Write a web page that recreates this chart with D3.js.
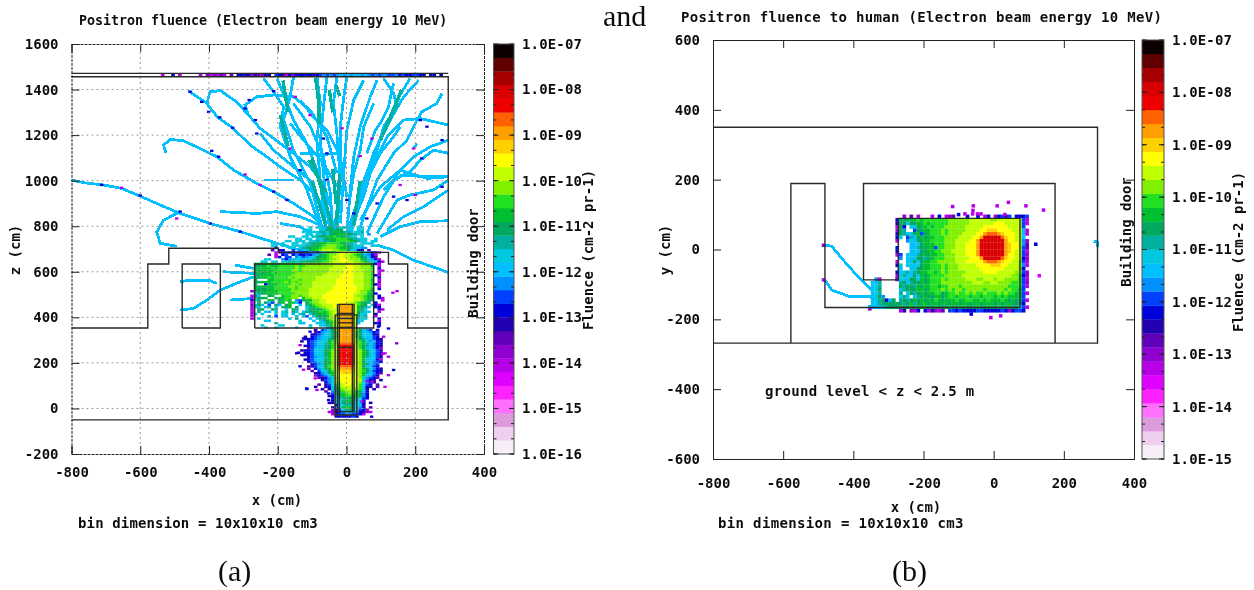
<!DOCTYPE html>
<html>
<head>
<meta charset="utf-8">
<script src="https://cdn.jsdelivr.net/npm/d3@7"></script>
<style>
  html, body { margin: 0; background: #fff; }
  svg { display: block; }
  text { font-family: "DejaVu Sans Mono", monospace; font-weight: bold; font-size: 14px; fill: #111; }
  .serif { font-family: "Liberation Serif", serif; font-weight: normal; }
</style>
</head>
<body>
<div id="chart"></div>
<script>
/* CONSTANTS AND GLOBALS */
const width = 1254, height = 590, binSize = 10;

// colour steps of the bar, pale end first. One letter per step in the cell strings below
const levelKeys = "abcdefghijklmnopqrstuvwxyzABCD";
const palette = ["#f8eef8", "#eed0ee", "#dc9cdc", "#ff70ff", "#ff20ff", "#e000ff", "#b800e8", "#9000d0", "#6000b8", "#2000b0",
  "#0000d8", "#0040ff", "#0090ff", "#00c0ff", "#00c8e0", "#00b0a0", "#00a860", "#00c030", "#20e020", "#80f000",
  "#c0ff00", "#ffff00", "#ffd000", "#ffa000", "#ff6000", "#ee0000", "#d80000", "#a80000", "#600000", "#100000"];

const xTicks = [-800, -600, -400, -200, 0, 200, 400];
const zTicks = [-200, 0, 200, 400, 600, 800, 1000, 1200, 1400, 1600];
const yTicks = [-600, -400, -200, 0, 200, 400, 600];
const decadesA = [-16, -15, -14, -13, -12, -11, -10, -9, -8, -7];
const decadesB = [-15, -14, -13, -12, -11, -10, -9, -8, -7];

/* PANEL (a) DATA: x, z in cm */
// top strip under the roof
const aRoofRow = [[1460, -540, "g..k. g.... .g.hg hgig. i.kkj khjih kj.lk jgkhk kkkkj klmlm lmnmn monmn mlmlm mllmk lkkll kk.kk .k"]];
// trunk above the upper block, starts at x = -300
const aTrunkRows = [
  [790, -300, "..... ..... ..... ....o .oo.p q.pop .o.oo ...."],
  [780, -300, "..... ..... ..... ...oo ..ooq qpqq. oo.oo ...."],
  [770, -300, "..... ..... ..... ..o.o oopp. qrrqp p.oop ...."],
  [760, -300, "..... ..... ..... ...oo .oopo qqrrr qqpoo .m.."],
  [750, -300, "..... ..... ...oo ..oo. opqqr rsrqq poo.o ...."],
  [740, -300, "..... ..... ..... oo.oo .oopq rrsss rqpoo o..o"],
  [730, -300, "..... ..... ..oo. ooo.o opopp qrsss srqpo o.oo"],
  [720, -300, "..... ...oo .o..o o.oop qqrrs sssrq ppo.o ooo."],
  [710, -300, "..... ...oo .oo.o ooopp qqrst ttssr qpooo ..oo"],
  [700, -300, "..... ....k ...oo .opqq rrstt ttsrr qpoom m..."],
  [690, -300, "..... ...i. kk..l .mnoq rstuu uttss qonkj .i.."],
  [680, -300, "..... ....g gklkk kkjj. lkmoq rstuv uutsq omkk g."],
  [670, -300, "..... ..i.g .kl.k mkklk moqrs ttuvu utsrq nmkg."],
  [660, -300, "..... ....g k.ll. mnlmn oqqrs tuuvu uttsq pnki."],
  [650, -300, "..... .oo.. .mkmn oonoo pqrrs ttuvv utttr qomkg"],
  [640, -300, "..... oo.oo .nopp oppqq qrrss tuuvv uutts rponk g"]
];
// the upper block, starts at x = -280
const aBlockRows = [
  [630, -280, ". qrrrs rrsss sssst ttttt tuuuu uuvvu uuttr kg."],
  [620, -280, ". qqrrs rrsss sstss ttttt tttuu uuvvu utttr .g."],
  [610, -280, ". qrrrr srsss sstst ttttt ttuuu uuvvu uttts .k."],
  [600, -280, ". rqrrr rssss sttst ttttt ttuuu uvvvu uutts .gg"],
  [590, -280, ". qrqrr srsss ssttt ttttt tuuuu uvvvu uutts .g."],
  [580, -280, ". qqrrr rssss stttt ttttt uuuuu vvvvu uutts kg."],
  [570, -280, ". rqrrs rssss tsttt tttuu uuuuu vvvvu uutts .k."],
  [560, -280, ". q...r rssss sttst tttuu uuuuv vvvvu uuttr .g."],
  [550, -280, ". qqrrr sssst ststt ttuuu uuuuv vvvvu uutts .h."],
  [540, -280, ". r..kq rrsss sttst ttuuu uuuuv vvvvu uuttr kg."],
  [530, -280, ". qqrrr rssss ttstt ttuuu uuuvv vvvvv uutts .g."],
  [520, -280, ". rqqqr rssss ststt tuuuu uuuvv vvvvv uuttr .k."],
  [510, -280, "h qqrqr rrsss stttt tuuuu uuvvv vvvvv uttsr ..."],
  [500, -280, ". nqqrr rrsss ssttt tuuuu uvvvv vvvvu uttrq k.."],
  [490, -280, "g qo..q r..rs sttst tuuuu vvvvv vvvvu ttsrq .k."],
  [480, -280, "g oqqr. .qrrs stt.r ttuuu vvvvv vvvvu utsrr .kg"],
  [470, -280, "j oq..r r.qrs r.mlr rrttu uvvvv vvvvu utsqq ..g"],
  [460, -280, "g .q.qn l.qr. rrnk. qsttu uvvvv vvuut srqp. k.."],
  [450, -280, "h oqo.l .qn.q r..n. prstt uuuvv uuutt srq.o kg."],
  [440, -280, "g oo.np .o.pq r.q.. oprst tuuvv uutts rqpo. kk."],
  [430, -280, "h .qq.. qp..o .qp.. oqqqq stuuv vuuts rqo.. .kg"],
  [420, -280, "g .p.on .o.op .qo.o pqqrs rstuv uutsr qpoo. .g."],
  [410, -280, "g n.o.. .n.oo .n.op .oqqr rstuu utsrq qoo.. k.."],
  [400, -280, "g ....p .l.on ..o.o l.oqq qrtuu utsrq qop.. g.."],
  [390, -280, "h .o... ..... o.p.. .n.oq qstuu tsrqp poo.. .k."],
  [380, -280, ". ...on ..... ...o. ..n.o pqstu usrqp oo... .g."],
  [370, -280, ". ..... .p... ...on ...oo oqrtu utrqo n.... kk."],
  [360, -280, ". ..o.. ..oo. ..... .o..o nprtu utrpm ..... .j."],
  [350, -280, ". ...o. .o... ..o.. .o... .oqst tsqo. ..... ..."]
];
// the two lobes round the target, starts at x = -155
const aLobeRows = [
  [340, -155, "..... .j.lm oqtxx xxxtq oml.j ."],
  [330, -155, "..... .ikmn oqsxx xxxsq nnmkl ."],
  [320, -155, "..... jklmo oqsxx xxxsq onnkj ."],
  [310, -155, "...j. klmno oqsxx xxxsq onnlk ."],
  [300, -155, "...jk klmno pqtxx xxxtq ponlk j"],
  [290, -155, "..j.k lmnoo qstxx xxxts qomnk j"],
  [280, -155, "....k lmnop rstyy yyyts rpnmk k"],
  [270, -155, "...jk lmnop qsuzz zzzus qpnmk j"],
  [260, -155, "....i lnoop qsuzz zzzus qonmk h"],
  [250, -155, "..jkk lnooq rtuzz zzzut rqonl j"],
  [240, -155, ".j.kk lnooq rtuzz zzzut rqonl k"],
  [230, -155, "..ijk lnooq rtuzz zzzut rqonl j"],
  [220, -155, "....k lmnop rtuzz zzzut rponl j"],
  [210, -155, "...jk lnnoq rtuzz zzzut ronnk g"],
  [200, -155, "....k lmnoq rtuzz zzzut qonml k"],
  [190, -155, "..... klmoq rtuzz zzzut rqnml ."],
  [180, -155, "....i jlnoq stuyy yyyut qnnlk ."],
  [170, -155, "....i .kmoq rtuxx xxxut rqomk j"],
  [160, -155, "..... i.lno qsuww wwwut sqnlk k"],
  [150, -155, "..... .jkmo qruvw wwvut rpnmk i"],
  [140, -155, "..... .hklm oruvv vvvut ronlj ."],
  [130, -155, "..... ..ijk motvv vvvvt omlki ."],
  [120, -155, "..... ...jl mouvv vvvuu omkj. j"],
  [110, -155, "..... ....k motuv vvvut omkj. ."],
  [100, -155, "..... ..i.j lostu vvuus olk.i ."],
  [90, -155, "..... .j..j kortu uuuus okj.i ."],
  [80, -155, "..... ...j. jnrst uutts oj.j. ."],
  [70, -155, "..... ....i .mqrs tttrq nk... ."],
  [60, -155, "..... ..... .lpqr stsrq mk... ."],
  [50, -155, "..... ..... jkoqr ssrrq mk... ."],
  [40, -155, "..... ..... .kopp qqqpo lk... ."],
  [30, -155, "..... ..... .knop rrqpn k.... ."],
  [20, -155, "..... ..... jjnoq qqqon k.j.. ."],
  [10, -155, "..... ..... ..jno ppoon j.... ."],
  [0, -155, "..... ..... .jmnr rrrnm j.i.. ."],
  [-10, -155, "..... ..... .hklo qqqol kh... ."],
  [-20, -155, "..... ..... ghjkm mmmmk jhg.. ."],
  [-30, -155, "..... ..... .gkll mmllk g.... ."],
  [-40, -155, "..... ..... ..kkk kklk. ..... ."]
];
// inside of the target tube above the block floor
const aTubeRows = [
  [450, -30, "uxxxxu"], [440, -30, "uxxxxu"], [430, -30, "uxxxxu"], [420, -30, "uxxxxu"], [410, -30, "uxxxxu"],
  [400, -30, "uxxxxu"], [390, -30, "uxxxxu"], [380, -30, "uxxxxu"], [370, -30, "uxxxxu"], [360, -30, "uxxxxu"], [350, -30, "uxxxxu"]
];
const aTracks = [
  [[-800, 1003], [-765, 991], [-707, 981], [-654, 966], [-600, 932], [-542, 893], [-484, 856], [-397, 812], [-309, 776], [-232, 739], [-154, 703], [-96, 681]],
  [[-525, 1120], [-532, 1156], [-513, 1181], [-474, 1175], [-416, 1134], [-377, 1105], [-329, 1047], [-261, 988], [-203, 944], [-154, 900], [-96, 842], [-57, 783]],
  [[-460, 1395], [-406, 1339], [-377, 1281], [-329, 1229], [-280, 1156], [-232, 1105], [-193, 1061], [-135, 1003], [-86, 930], [-47, 827]],
  [[-406, 1339], [-397, 1390], [-367, 1395], [-319, 1346], [-285, 1288], [-251, 1229], [-212, 1185], [-154, 1120], [-106, 1061], [-67, 988], [-47, 886]],
  [[-285, 1288], [-295, 1332], [-261, 1368], [-212, 1376], [-154, 1368], [-106, 1310], [-57, 1193], [-28, 1032]],
  [[-484, 864], [-532, 827], [-552, 775], [-542, 725], [-494, 712]],
  [[-484, 556], [-460, 563], [-401, 563], [-377, 549]],
  [[-484, 432], [-445, 439], [-406, 476], [-367, 520], [-309, 556], [-270, 578]],
  [[-338, 476], [-270, 483]],
  [[-324, 629], [-270, 615]],
  [[-358, 600], [-270, 593]],
  [[88, 717], [137, 695], [195, 651], [297, 597]],
  [[-367, 864], [-261, 856], [-203, 864], [-135, 842], [-76, 805]],
  [[297, 1244], [215, 1273], [166, 1266], [118, 1193], [79, 1076], [40, 929], [11, 754]],
  [[278, 1383], [263, 1339], [219, 1302], [195, 1237], [176, 1178], [137, 1120], [89, 1003], [40, 798]],
  [[297, 1178], [244, 1149], [195, 1105], [156, 1046], [108, 929], [59, 768]],
  [[297, 1003], [253, 959], [185, 937], [147, 915], [118, 842], [89, 768]],
  [[297, 959], [224, 885], [166, 842], [118, 783]],
  [[297, 824], [215, 820], [156, 798], [98, 754]],
  [[297, 1017], [234, 1010], [156, 1046], [98, 973], [40, 827]],
  [[210, 1441], [166, 1368], [127, 1266], [98, 1178], [69, 1076], [40, 959], [11, 798]],
  [[185, 1449], [147, 1354], [118, 1251], [79, 1120], [40, 944], [1, 768]],
  [[108, 1449], [137, 1383], [147, 1324], [108, 1237], [89, 1134], [50, 973], [21, 798]],
  [[89, 1441], [69, 1368], [40, 1237], [21, 1105], [11, 959], [1, 768]],
  [[50, 1441], [21, 1354], [1, 1222], [-8, 1032], [-18, 812]],
  [[1, 1456], [-8, 1368], [-18, 1237], [-18, 1032], [-28, 754]],
  [[-28, 1456], [-38, 1339], [-28, 1207], [-18, 1003], [-38, 739]],
  [[-57, 1456], [-67, 1324], [-76, 1178], [-67, 1032], [-47, 754]],
  [[-86, 1456], [-76, 1339], [-86, 1178], [-76, 988], [-57, 768]],
  [[-154, 1456], [-164, 1368], [-183, 1266], [-154, 1134], [-105, 988], [-67, 768]],
  [[-202, 1449], [-173, 1339], [-154, 1266], [-115, 1163], [-76, 1003], [-47, 783]],
  [[-241, 1449], [-212, 1390], [-183, 1324], [-193, 1237], [-164, 1105], [-115, 959], [-67, 754]],
  [[-154, 1339], [-105, 1237], [-67, 1105], [-47, 944], [-38, 739]],
  [[-241, 1003], [-154, 1003]],
  [[-193, 812], [-135, 798], [-96, 754]],
  [[-251, 1207], [-212, 1134], [-154, 1061], [-95, 988]],
  [[-164, 1251], [-125, 1178], [-67, 1076], [-28, 973]],
  [[-135, 1354], [-96, 1280], [-57, 1222], [-18, 1105], [1, 929]],
  [[79, 1339], [50, 1237], [40, 1134], [21, 1032], [11, 929]],
  [[137, 1427], [122, 1324], [98, 1251], [84, 1222], [59, 1120]],
  [[156, 1237], [137, 1193], [98, 1120], [69, 1032], [50, 929], [21, 827]],
  [[297, 1120], [253, 1134], [215, 1090], [185, 1039], [137, 1003], [108, 959]],
  [[297, 1020], [234, 1017], [156, 1025]],
  [[205, 1163], [195, 1141]],
  [[-135, 1120], [-67, 1115], [-28, 1120]]
];
// where tracks pile up and the colour goes teal
const aDenseTracks = [
  [[-193, 1290], [-183, 1230], [-170, 1150]],
  [[-86, 1420], [-80, 1320], [-80, 1250]],
  [[-20, 1030], [-25, 900], [-30, 800]],
  [[-100, 1100], [-70, 950], [-40, 790]],
  [[150, 1340], [120, 1260], [100, 1180]],
  [[-50, 1400], [-40, 1300]],
  [[-90, 1450], [-80, 1340]],
  [[-30, 1420], [-20, 1370]],
  [[-185, 1440], [-170, 1300]],
  [[160, 1400], [140, 1320], [120, 1250]],
  [[-110, 1090], [-60, 950]],
  [[-40, 1050], [-30, 900]],
  [[40, 1000], [20, 800]],
  [[-100, 1000], [-60, 800]]
];
const aSpecks = [
  [-455, 1390, "k"], [-421, 1346, "k"], [-401, 1302, "k"], [-369, 1278, "k"], [-331, 1232, "k"], [-295, 1317, "k"],
  [-283, 1354, "k"], [-265, 1266, "k"], [-261, 1207, "k"], [-212, 1393, "k"], [-149, 1368, "g"], [-106, 1288, "g"],
  [-164, 1141, "g"], [-135, 1046, "k"], [-212, 952, "k"], [-173, 915, "k"], [-295, 1027, "g"], [-251, 981, "g"],
  [-372, 1105, "k"], [-392, 1131, "k"], [-712, 981, "k"], [-654, 969, "g"], [-600, 935, "k"], [-484, 864, "k"],
  [-494, 834, "g"], [-397, 812, "k"], [-309, 776, "k"], [278, 1178, "k"], [234, 1237, "k"], [215, 1266, "k"],
  [195, 1141, "g"], [219, 1098, "k"], [278, 973, "k"], [200, 937, "g"], [156, 981, "g"], [137, 930, "k"],
  [176, 915, "k"], [89, 900, "k"], [59, 834, "k"], [40, 1108, "g"], [74, 1185, "g"], [-13, 1230, "g"],
  [-57, 1120, "k"], [-67, 1185, "k"], [-57, 1003, "k"], [1, 915, "k"], [21, 856, "k"],
  [146, 286, "h"], [112, 95, "g"], [73, -36, "k"], [-116, 88, "k"], [-145, 242, "k"], [-125, 170, "g"],
  [-135, 185, "k"], [135, 508, "g"], [147, 515, "g"], [122, 351, "k"], [105, 240, "g"], [60, 120, "g"],
  [-106, 337, "k"], [-125, 307, "k"], [-135, 278, "g"], [-125, 234, "k"], [-91, 132, "g"], [-86, 81, "g"],
  [-115, 85, "k"], [-52, 66, "k"], [-52, 37, "k"], [93, 359, "k"], [108, 315, "g"], [112, 242, "g"],
  [122, 227, "g"], [137, 169, "k"], [122, 146, "g"], [74, 117, "g"], [45, 30, "g"]
];
// building walls and target outlines
const aWalls = [
  [[-800, 1471], [296, 1471]],
  [[-800, 1456], [296, 1456], [296, -50], [-800, -50]],
  [[-800, 353], [-578, 353], [-578, 634], [-517, 634], [-517, 703], [-198, 703], [-198, 685], [122, 685], [122, 634], [178, 634], [178, 353], [296, 353]],
  [[-478, 353], [-478, 634], [-367, 634], [-367, 353], [-478, 353]],
  [[-267, 353], [-267, 634], [79, 634], [79, 353], [-267, 353]],
  [[-33, 411], [30, 411], [30, -29], [-33, -29], [-33, 411]],
  [[-26, 457], [22, 457], [22, -14], [-26, -14], [-26, 457]],
  [[-26, 417], [22, 417]], [[-26, 395], [22, 395]], [[-26, 376], [22, 376]], [[-26, 356], [22, 356]], [[-26, 268], [22, 268]],
  [[-21, 457], [-21, -14]], [[17, 457], [17, -14]]
];

/* PANEL (b) DATA: x, y in cm, starts at x = -280 */
const bRows = [
  [90, -280, ". .h.i. g...g .k.gh i...k ..k.g k.hkl jl.kk kl"],
  [80, -280, "k qqqrr srsss sssst ttttt uuuuu uttuu uuuuu lg"],
  [70, -280, "j qqoqq rrsrs sssst ttttt uuuuu uuvvv uuuuu lg"],
  [60, -280, "g qk.oo qrrsr ssstt ttttu uuuuv vvvvv vuuuu l."],
  [50, -280, "g qp..l qqrrs sstst ttttu uuuvv wwwvv vvuuu og"],
  [40, -280, "j qpnoq rlqrs sstst tttuu uuvvx yyyxw vvvuu ng"],
  [30, -280, "k o.lpn qrqrr ssstt ttuuu uvvxA AAAAy wvvuu n."],
  [20, -280, "g ..mon qqrrs ssstt tuuuu vvxAA AAAAA xvvuu mh"],
  [10, -280, ". ...nn oqrrr ssstt tuuuv vvxAA AAAAA xwvvu mi"],
  [0, -280, "k ...nn pqqrr lsstt tuuuv vvxAA AAAAA xwvvu li"],
  [-10, -280, "k ...no nqqrr ssttt uuuuv vvxAA AAAAA xwvuu lg"],
  [-20, -280, "g l.onn pqrqr rsstt tuuuv vvxAA AAAAA xvvuu lh"],
  [-30, -280, ". m.non qqpqr ssstt tuuuu vvvxA AAAAy wvvuu kh"],
  [-40, -280, "g ..onq nqrrs stttt tuuuv vvvvx yyyxw vvuut lg"],
  [-50, -280, "j o.non oqrrs sstst ttuuu uuvvv vwwwv vuuut mg"],
  [-60, -280, ". n..on qqrrs sstst ttuuu uuuvv vvvvv uuuut k."],
  [-70, -280, "k nopnp qrrss rstst ttttu uuuuv vvvuu uuutt lh"],
  [-80, -280, "g oponq nrqrs ssstt tttuu uuuuu uuuuu uutts kh"],
  [-90, -280, "h oonqq orqrs sstst ttttu uuttu uutuu tttts lg"],
  [-100, -280, ". pqnpq qrqrs ssttt ttttt tuuut tuutt ttsss lh"],
  [-110, -280, ". qpqqp rqrrs srsst ttstt ttttt ttttt tssss lg"],
  [-120, -280, ". opqqq rrqrs sstst sttst tttts ttttt stssr l."],
  [-130, -280, ". p.oqp qrqrr ssqrs stsst stsst sssts tssrr lg"],
  [-140, -280, ". opo.o pqrqq rrqrs srsss rssrs ssrsr srrrr l."],
  [-150, -280, ". pqpqr qrqrq srqrr rsrrs srrsr srrrs rqrqq lg"],
  [-160, -280, ". qpqrp qrrqr rqrrq rrqrr qrrqr rrqrq rrqqq k."],
  [-170, -280, ". qqqrq rqrqq rqqqr qqrrq qqrqq rqqrq qrqqo lg"],
  [-180, -280, ". gj.hg k.kgj hgi.l lklkk kkllk kkkkl khkll k."]
];
// corridor cells left of the block, starts at x = -350
const bCorridorRows = [
  [-90, -350, ".mg.. ..g"],
  [-100, -350, "nnp.. ...o"],
  [-110, -350, "nop.. ...o"],
  [-120, -350, "onq.. ...n"],
  [-130, -350, "nop.. ...o"],
  [-140, -350, "noqm. ...o"],
  [-150, -350, "nopqk nq.."],
  [-160, -350, "onpqq qqq"],
  [-170, -350, "nnnop qqq"]
];
const bTracks = [
  [[-485, 12], [-462, 10], [-429, -30], [-391, -73], [-362, -101], [-343, -120]],
  [[-481, -87], [-462, -116], [-410, -135], [-353, -135], [-324, -149]],
  [[-357, -162], [-276, -159]],
  [[285, 24], [296, 22], [296, 8]]
];
const bSpecks = [
  [-117, 123, "g"], [-58, 125, "g"], [-59, 112, "g"], [10, 125, "g"], [42, 135, "g"], [92, 125, "g"], [142, 113, "g"],
  [-82, 102, "g"], [-60, 102, "g"], [-46, 102, "g"], [-36, 102, "g"], [32, 100, "g"], [-100, 100, "k"], [120, 15, "k"],
  [130, -75, "f"], [-8, -195, "g"], [20, -190, "g"], [-64, -185, "k"], [-353, -170, "h"], [-485, 12, "h"], [-485, -87, "g"]
];
const bWalls = [
  [[-800, 350], [296, 350], [296, -268], [-800, -268]],
  [[-578, -268], [-578, 189], [-481, 189], [-481, -166], [75, -166], [75, 89], [-272, 89], [-272, -87], [-371, -87], [-371, 189], [175, 189], [175, -268]]
];

/* DRAW HELPERS */
const svg = d3.select("#chart").append("svg").attr("width", width).attr("height", height);
svg.append("defs").append("filter").attr("id", "soft")
  .append("feGaussianBlur").attr("stdDeviation", 0.4);
const root = svg.append("g").attr("filter", "url(#soft)");

function toCells(rows) {
  return rows.flatMap(([v, x0, s]) => Array.from(s.replace(/ /g, "")).flatMap((c, i) =>
    c === "." ? [] : [{ x: x0 + i * binSize, v, level: levelKeys.indexOf(c) }]));
}

function spacedText(g, l) {
  return g.append("text").attr("x", l.x).attr("y", l.y).attr("dy", "0.35em")
    .attr("text-anchor", l.anchor || "start")
    .style("font-size", (l.size || 14) + "px")
    .style("letter-spacing", (l.spacing || 0) + "px").text(l.text);
}

function drawPanel(p) {
  const g = root.append("g");
  const x = d3.scaleLinear().domain([-800, 400]).range(p.xRange);
  const y = d3.scaleLinear().domain(p.yDomain).range(p.yRange);
  const line = d3.line().x(d => x(d[0])).y(d => y(d[1]));
  const colour = d3.scaleQuantize().domain(d3.extent(p.decades)).range(palette);
  const [lo, hi] = d3.extent(p.decades);
  const fluence = level => lo + (level + 0.5) / palette.length * (hi - lo);

  // tracks go under the binned cells
  g.append("g").selectAll("path").data(p.tracks).join("path")
    .attr("d", line).attr("fill", "none")
    .attr("stroke", colour(fluence(13))).attr("stroke-width", 2.8)
    .attr("shape-rendering", "crispEdges");
  g.append("g").selectAll("path").data(p.denseTracks).join("path")
    .attr("d", line).attr("fill", "none")
    .attr("stroke", colour(fluence(15))).attr("stroke-width", 3.4)
    .attr("shape-rendering", "crispEdges");

  // binned fluence
  const w = x(binSize) - x(0), h = y(0) - y(binSize);
  g.append("g").selectAll("rect").data(p.cells).join("rect")
    .attr("x", d => x(d.x)).attr("y", d => y(d.v + binSize))
    .attr("width", w + 0.2).attr("height", h + 0.2)
    .attr("fill", d => colour(fluence(d.level)));
  g.append("g").selectAll("rect").data(p.specks).join("rect")
    .attr("x", d => x(d[0]) - w / 2).attr("y", d => y(d[1]) - h / 2)
    .attr("width", w).attr("height", h)
    .attr("fill", d => colour(fluence(levelKeys.indexOf(d[2]))));

  // grid, only on the left panel
  if (p.grid) {
    const grid = g.append("g").attr("fill", "none").attr("stroke", "#999").attr("stroke-dasharray", "2,3");
    grid.selectAll("line.v").data(xTicks.slice(1, -1)).join("line").attr("class", "v")
      .attr("x1", d => x(d)).attr("x2", d => x(d)).attr("y1", p.yRange[0]).attr("y2", p.yRange[1]);
    grid.selectAll("line.h").data(p.yTicks.slice(1, -1)).join("line").attr("class", "h")
      .attr("x1", p.xRange[0]).attr("x2", p.xRange[1]).attr("y1", d => y(d)).attr("y2", d => y(d));
  }

  // walls
  g.append("g").selectAll("path").data(p.walls).join("path")
    .attr("d", line).attr("fill", "none").attr("stroke", "#2a2a2a").attr("stroke-width", 1.4);

  // axes with ticks pointing in
  const plain = d => String(d);
  const bottom = g.append("g").attr("transform", `translate(0,${p.yRange[0]})`)
    .call(d3.axisBottom(x).tickValues(xTicks).tickSize(-8).tickPadding(p.xPad).tickFormat(plain));
  const left = g.append("g").attr("transform", `translate(${p.xRange[0]},0)`)
    .call(d3.axisLeft(y).tickValues(p.yTicks).tickSize(-8).tickPadding(13).tickFormat(plain));
  const top = g.append("g").attr("transform", `translate(0,${p.yRange[1]})`)
    .call(d3.axisTop(x).tickValues(xTicks).tickSize(-8).tickFormat(""));
  const right = g.append("g").attr("transform", `translate(${p.xRange[1]},0)`)
    .call(d3.axisRight(y).tickValues(p.yTicks).tickSize(-8).tickFormat(""));
  [bottom, left, top, right].forEach(a => {
    a.selectAll(".domain").attr("stroke", "#222").attr("stroke-dasharray", p.grid ? "3,1" : null);
    a.selectAll(".tick line").attr("stroke", "#222");
    a.selectAll("text").style("font-size", "14px");
  });

  // colour bar
  const [barL, barR] = p.barX;
  const bar = d3.scaleLinear().domain([lo, hi]).range(p.yRange);
  const barStep = d3.range(palette.length);
  g.append("g").selectAll("rect").data(barStep).join("rect")
    .attr("x", barL).attr("width", barR - barL)
    .attr("y", i => bar(lo + (i + 1) / palette.length * (hi - lo)))
    .attr("height", (p.yRange[0] - p.yRange[1]) / palette.length + 0.3)
    .attr("fill", i => palette[i]);
  g.append("rect").attr("x", barL).attr("y", p.yRange[1]).attr("width", barR - barL)
    .attr("height", p.yRange[0] - p.yRange[1]).attr("fill", "none").attr("stroke", "#555");
  const minor = d3.range(lo, hi, 1 / 3);
  g.append("g").attr("stroke", "#222").selectAll("path").data(minor).join("path")
    .attr("d", d => `M${barL},${bar(d)}h3M${barR},${bar(d)}h-3`);
  g.append("g").attr("stroke", "#222").selectAll("path").data(p.decades).join("path")
    .attr("d", d => `M${barL},${bar(d)}h5M${barR},${bar(d)}h-5`);
  g.append("g").selectAll("text").data(p.decades).join("text")
    .attr("x", barR + 8).attr("y", d => bar(d)).attr("dy", "0.35em")
    .style("letter-spacing", "0.15px")
    .text(d => "1.0E" + (d < 0 ? "-" : "+") + String(Math.abs(d)).padStart(2, "0"));

  // labels
  p.labels.forEach(l => {
    const t = spacedText(g, l);
    if (l.rotate) t.attr("transform", `rotate(-90,${l.x},${l.y})`);
  });
}

/* DRAW */
drawPanel({
  xRange: [71.5, 484], yDomain: [-200, 1600], yRange: [454, 44], yTicks: zTicks, decades: decadesA,
  barX: [493.5, 514], grid: true, xPad: 13,
  cells: toCells([...aRoofRow, ...aTrunkRows, ...aBlockRows, ...aLobeRows, ...aTubeRows]),
  tracks: aTracks, denseTracks: aDenseTracks, specks: aSpecks, walls: aWalls,
  labels: [
    { text: "Positron fluence (Electron beam energy 10 MeV)", x: 79, y: 20, size: 13.3 },
    { text: "x (cm)", x: 277, y: 500, anchor: "middle" },
    { text: "z (cm)", x: 15, y: 250, anchor: "middle", rotate: true },
    { text: "bin dimension = 10x10x10 cm3", x: 78, y: 523, spacing: 0.14 },
    { text: "Building door", x: 473, y: 263, anchor: "middle", rotate: true },
    { text: "Fluence (cm-2 pr-1)", x: 588, y: 250, anchor: "middle", rotate: true }
  ]
});
drawPanel({
  xRange: [713, 1134], yDomain: [-600, 600], yRange: [459, 40], yTicks: yTicks, decades: decadesB,
  barX: [1142, 1164], grid: false, xPad: 19,
  cells: toCells([...bCorridorRows, ...bRows]),
  tracks: bTracks, denseTracks: [], specks: bSpecks, walls: bWalls,
  labels: [
    { text: "Positron fluence to human (Electron beam energy 10 MeV)", x: 681, y: 17, spacing: 0.32 },
    { text: "x (cm)", x: 916, y: 507, anchor: "middle" },
    { text: "y (cm)", x: 665, y: 250, anchor: "middle", rotate: true },
    { text: "bin dimension = 10x10x10 cm3", x: 718, y: 523, spacing: 0.35 },
    { text: "ground level < z < 2.5 m", x: 765, y: 391, spacing: 0.3 },
    { text: "Building door", x: 1126, y: 232, anchor: "middle", rotate: true },
    { text: "Fluence (cm-2 pr-1)", x: 1238, y: 252, anchor: "middle", rotate: true }
  ]
});

// surrounding page text
[["and", 603, 26], ["(a)", 218, 581], ["(b)", 892, 581]].forEach(([s, x, y]) => {
  root.append("text").attr("class", "serif").attr("x", x).attr("y", y)
    .style("font-size", "30px").text(s);
});
</script>
</body>
</html>
